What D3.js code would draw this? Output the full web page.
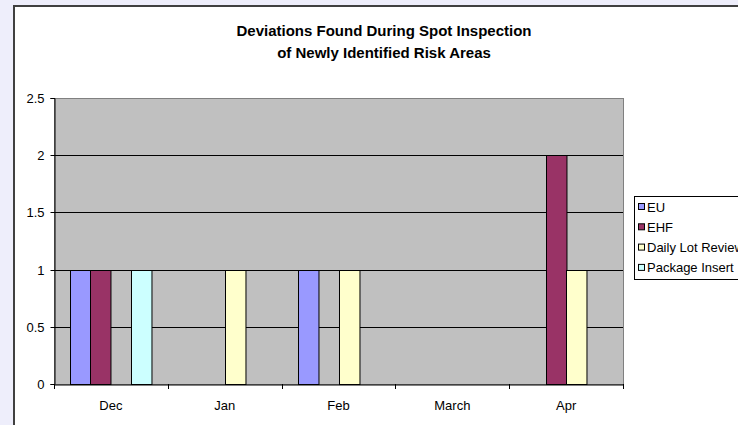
<!DOCTYPE html>
<html><head><meta charset="utf-8">
<script src="https://cdn.jsdelivr.net/npm/d3@7"></script>
<style>html,body{margin:0;padding:0;background:#EEEEFB;overflow:hidden}svg{display:block}text{font-family:"Liberation Sans",Arial,sans-serif}</style>
</head><body>
<script>
const categories = ["Dec", "Jan", "Feb", "March", "Apr"];
const seriesNames = ["EU", "EHF", "Daily Lot Review", "Package Insert"];
const euValues = [1, 0, 1, 0, 0];
const ehfValues = [1, 0, 0, 0, 2];
const dailyValues = [0, 1, 1, 0, 1];
const packageValues = [1, 0, 0, 0, 0];
const seriesColors = ["#9999FF", "#993366", "#FFFFCC", "#CCFFFF"];
const yTicks = [0, 0.5, 1, 1.5, 2, 2.5];
const titleLines = ["Deviations Found During Spot Inspection", "of Newly Identified Risk Areas"];

const W = 738, H = 425;
const FONT = "Liberation Sans, Arial, sans-serif";
const svg = d3.select("body").append("svg").attr("width", W).attr("height", H);
svg.append("rect").attr("width", W).attr("height", H).attr("fill", "#EEEEFB");
svg.append("rect").attr("x", 14).attr("y", 6).attr("width", 800).attr("height", 500)
  .attr("fill", "#fff").attr("stroke", "#404040").attr("stroke-width", 2);

const plot = {l: 54, r: 623, t: 98, b: 384};
const x0 = d3.scaleBand().domain(categories).range([plot.l, plot.r]).paddingInner(0).paddingOuter(0);
const x1 = d3.scaleBand().domain(seriesNames).range([0, x0.bandwidth()]).paddingInner(0).paddingOuter(0.78);
const y = d3.scaleLinear().domain([0, 2.5]).range([plot.b, plot.t]);

svg.append("rect").attr("x", plot.l + 0.5).attr("y", plot.t + 0.5).attr("width", plot.r - plot.l).attr("height", plot.b - plot.t)
  .attr("fill", "#C0C0C0").attr("stroke", "#808080").attr("stroke-width", 1);

// gridlines
svg.append("g").selectAll("line").data(yTicks.filter(v => v > 0 && v < 2.5)).join("line")
  .attr("x1", plot.l).attr("x2", plot.r).attr("y1", d => Math.round(y(d)) + 0.5).attr("y2", d => Math.round(y(d)) + 0.5)
  .attr("stroke", "#000").attr("stroke-width", 1);

const allSeries = [euValues, ehfValues, dailyValues, packageValues];
const bars = [];
allSeries.forEach((vals, si) => vals.forEach((v, ci) => { if (v > 0) bars.push({s: seriesNames[si], c: categories[ci], v, color: seriesColors[si]}); }));
svg.append("g").selectAll("rect").data(bars).join("rect")
  .attr("x", d => Math.round(x0(d.c) + x1(d.s)) + 0.5)
  .attr("y", d => Math.round(y(d.v)) + 0.5)
  .attr("width", x1.bandwidth())
  .attr("height", d => Math.round(y(0)) - Math.round(y(d.v)))
  .attr("fill", d => d.color).attr("stroke", "#000").attr("stroke-width", 1);

// y axis
const yAxis = svg.append("g").attr("transform", `translate(${plot.l + 0.5},0)`)
  .call(d3.axisLeft(y).tickValues(yTicks).tickFormat(d => String(d)).tickSize(4).tickPadding(6));
yAxis.select(".domain").attr("stroke", "#000");
yAxis.selectAll(".tick line").attr("stroke", "#000");
yAxis.selectAll("text").attr("font-size", 13).attr("fill", "#000").attr("font-family", FONT);
yAxis.selectAll(".tick").attr("transform", d => `translate(0,${Math.round(y(d)) + 0.5})`);

// x axis
const xAxis = svg.append("g").attr("transform", `translate(0,${plot.b + 0.5})`)
  .call(d3.axisBottom(x0).tickSize(0).tickPadding(16));
xAxis.select(".domain").attr("stroke", "#000");
xAxis.selectAll("text").attr("font-size", 13).attr("fill", "#000").attr("font-family", FONT);
const boundaries = categories.map(c => x0(c)).concat([plot.r]);
svg.append("g").selectAll("line").data(boundaries).join("line")
  .attr("x1", d => Math.round(d) + 0.5).attr("x2", d => Math.round(d) + 0.5)
  .attr("y1", plot.b).attr("y2", plot.b + 5).attr("stroke", "#000");

// title
svg.append("g").selectAll("text").data(titleLines).join("text")
  .attr("x", 384).attr("y", (d, i) => 36 + i * 22).attr("text-anchor", "middle")
  .attr("font-size", 15).attr("font-weight", "bold").attr("fill", "#000").text(d => d);

// legend
const lg = svg.append("g");
lg.append("rect").attr("x", 634.5).attr("y", 196.5).attr("width", 200).attr("height", 83)
  .attr("fill", "#fff").attr("stroke", "#000").attr("stroke-width", 1);
const items = lg.selectAll("g").data(seriesNames).join("g")
  .attr("transform", (d, i) => `translate(638,${207 + i * 20.3})`);
items.append("rect").attr("x", 0.5).attr("y", -3.5).attr("width", 6).attr("height", 6)
  .attr("fill", (d, i) => seriesColors[i]).attr("stroke", "#000").attr("stroke-width", 1);
items.append("text").attr("x", 9).attr("y", 4.5).attr("font-size", 13).attr("fill", "#000").text(d => d);
</script>
</body></html>
